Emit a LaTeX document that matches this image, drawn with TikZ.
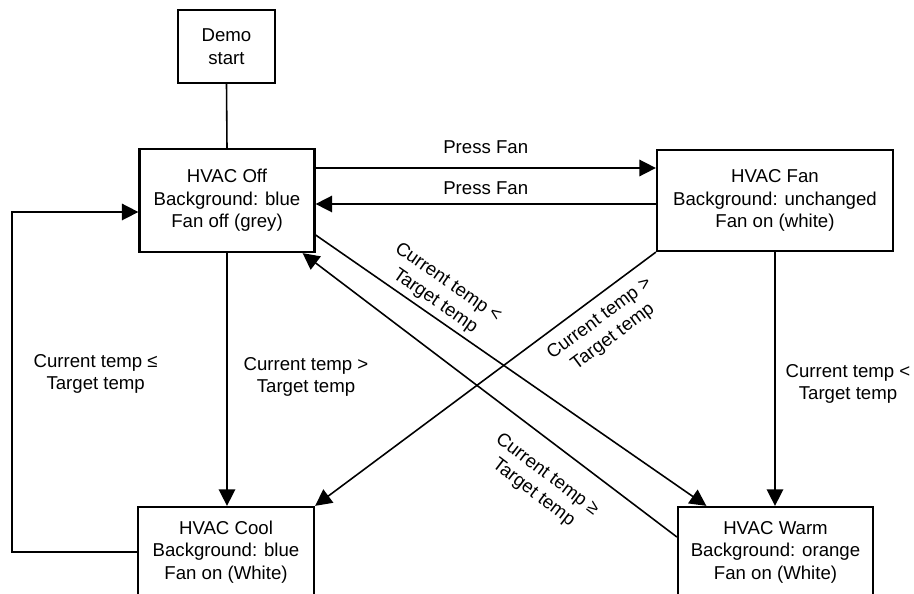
\documentclass[tikz,border=0pt]{standalone}
\usepackage{fontspec}
\setmainfont{Liberation Sans}
\usepackage{tikz}
\usetikzlibrary{arrows.meta}

\tikzset{
	state/.style={draw,line width=1.3pt,align=center,inner sep=2pt},
	trans/.style={line width=0.9pt,-{Triangle[length=0.33cm,width=0.33cm]}},
	cond/.style={align=center},
}

\begin{document}
\begin{tikzpicture}[x=0.02cm,y=-0.02cm,font=\fontsize{10.6}{12.8}\selectfont]
	\useasboundingbox (0,0) rectangle (914,594);
	
	\node[state,minimum width=1.94cm,minimum height=1.46cm] (demo) at (226.5,46.5) {Demo\\start};
	\node[state,minimum width=3.5cm,minimum height=2.06cm] (off) at (227,200.5) {HVAC Off\\Background: blue\\Fan off (grey)};
	\node[state,minimum width=4.72cm,minimum height=2.02cm] (fan) at (775,200.5) {HVAC Fan\\Background: unchanged\\Fan on (white)};
	\node[state,minimum width=3.52cm,minimum height=1.8cm] (cool) at (226,552) {HVAC Cool\\Background: blue\\Fan on (White)};
	\node[state,minimum width=3.9cm,minimum height=1.8cm] (warm) at (775.5,552) {HVAC Warm\\Background: orange\\Fan on (White)};
	
	\coordinate (loop) at (12,552);
	
	\draw[line width=0.9pt] (demo.south) -- (off.north);	%start
	\draw[trans] ([yshift=0.65cm]off.east) -- node[cond,above=0.16cm] {Press Fan} ([yshift=0.65cm]fan.west);	%Press Fan
	\draw[trans] ([yshift=-0.07cm]fan.west) -- node[cond,above=0.06cm] {Press Fan} ([yshift=-0.07cm]off.west -| off.east);
	
	\draw[trans] (off.south) -- node[cond,right=0.2cm,pos=0.49] {Current temp >\\Target temp} (off.south |- cool.north);	%Off to Cool
	\draw[trans] (fan.south) -- node[cond,right=0.08cm,pos=0.52] {Current temp <\\Target temp} (fan.south |- warm.north);	%Fan to Warm
	\draw[trans] (cool.west) -- (loop) |- node[cond,pos=0.262,right=0.3cm] {Current temp ≤\\Target temp} ([yshift=-0.23cm]off.west);	%Cool to Off
	
	\draw[trans] ([yshift=-0.69cm]off.east) -- node[cond,sloped,above=-0.03cm,pos=0.286] {Current temp <\\Target temp} ([xshift=0.59cm]warm.north west);	%Off to Warm
	\draw[trans] (fan.south west) -- node[cond,sloped,below=0.1cm,pos=0.2] {Current temp >\\Target temp} (cool.north east);	%Fan to Cool
	\draw[trans] ([yshift=0.3cm]warm.west) -- node[cond,sloped,below=0.28cm,pos=0.3] {Current temp ≥\\Target temp} ([xshift=-0.26cm]off.south east);	%Warm to Off
\end{tikzpicture}
\end{document}
